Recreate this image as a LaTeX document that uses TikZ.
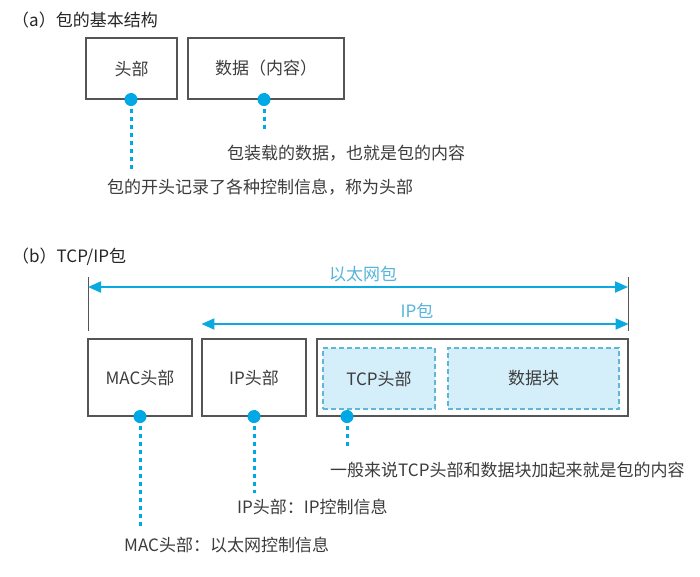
\documentclass[tikz,border=0pt]{standalone}
\usepackage{fontspec}
\setmainfont{Noto Sans CJK SC}
\usetikzlibrary{arrows.meta,positioning}
\definecolor{dotblue}{RGB}{0,168,230}
\definecolor{arrowblue}{RGB}{10,170,225}
\definecolor{lightblue}{RGB}{85,180,220}
\definecolor{cellfill}{RGB}{212,238,250}
\definecolor{cellline}{RGB}{95,182,215}
\definecolor{framegray}{RGB}{85,85,85}
\definecolor{textgray}{RGB}{60,60,60}
\begin{document}
\begin{tikzpicture}[x=1pt,y=-1pt,
    font=\fontsize{17}{20}\selectfont, text=textgray,
    pbox/.style={draw=framegray, line width=1.1pt, minimum height=77pt, inner sep=0pt},
    cell/.style={draw=cellline, fill=cellfill, line width=1.1pt, dash pattern=on 5pt off 3pt,
      minimum height=61pt, inner sep=0pt},
    dot/.style={circle, fill=dotblue, minimum size=13pt, inner sep=0pt},
    leader/.style={draw=dotblue, line width=3pt, dash pattern=on 4pt off 4pt},
    span/.style={draw=arrowblue, line width=2pt, {Triangle[length=13pt,width=11pt]}-{Triangle[length=13pt,width=11pt]}},
    spanlabel/.style={text=lightblue},
    note/.style={anchor=west, inner sep=0pt}]
  \useasboundingbox (0,0) rectangle (700,576);

  % (a) basic structure
  \node[note, text=black!85] (ta) at (12,20) {（a）包的基本结构};
  \node[pbox, minimum width=91pt, minimum height=61pt] (hdr) at (131.5,68.5) {头部};
  \node[pbox, minimum width=156pt, minimum height=61pt] (body) at (266,68.5) {数据（内容）};
  \node[note] (lhdr) at (107,187) {包的开头记录了各种控制信息，称为头部};
  \node[note] (lbody) at (227,153) {包装载的数据，也就是包的内容};
  \coordinate (ehdr) at (131,169);
  \coordinate (ebody) at (264,132);
  \draw[leader] ([yshift=7pt]hdr.south -| ehdr) -- (ehdr);
  \draw[leader] ([yshift=7pt]body.south -| ebody) -- (ebody);
  \node[dot] (dhdr) at (hdr.south -| ehdr) {};
  \node[dot] (dbody) at (body.south -| ebody) {};

  % (b) TCP/IP packet
  \node[note, text=black!85] (tb) at (12,257) {（b）TCP/IP包};
  \node[pbox, minimum width=104pt] (mac) at (140,377.5) {MAC头部};
  \node[pbox, minimum width=104pt] (ip) at (254,377.5) {IP头部};
  \node[pbox, minimum width=311pt] (load) at (472.5,377.5) {};
  \node[cell, minimum width=112pt] (tcp) at (379,378.5) {TCP头部};
  \node[cell, minimum width=171pt] (blk) at (533.5,378.5) {数据块};

  \coordinate (bl) at (88,277);
  \coordinate (br) at (628,277);
  \draw[framegray, line width=0.9pt] (bl) -- (bl |- 0,331);
  \draw[framegray, line width=0.9pt] (br) -- (br |- 0,331);
  \draw[span] (88,287) -- (628,287);
  \node[spanlabel] (leth) at (363,274) {以太网包};
  \draw[span] (ip.west |- 0,324) -- (load.east |- 0,324);
  \node[spanlabel] (lip) at (417,311) {IP包};

  \node[note] (lmac) at (124,545) {MAC头部：以太网控制信息};
  \node[note] (lipn) at (237,507) {IP头部：IP控制信息};
  \node[note] (lload) at (330,470) {一般来说TCP头部和数据块加起来就是包的内容};
  \coordinate (emac) at (140,527);
  \coordinate (eip) at (254,493);
  \coordinate (eload) at (347,448);
  \draw[leader] ([yshift=7pt]mac.south -| emac) -- (emac);
  \draw[leader] ([yshift=7pt]ip.south -| eip) -- (eip);
  \draw[leader] ([yshift=7pt]load.south -| eload) -- (eload);
  \node[dot] (dmac) at (mac.south -| emac) {};
  \node[dot] (dip) at (ip.south -| eip) {};
  \node[dot] (dload) at (load.south -| eload) {};
\end{tikzpicture}
\end{document}
